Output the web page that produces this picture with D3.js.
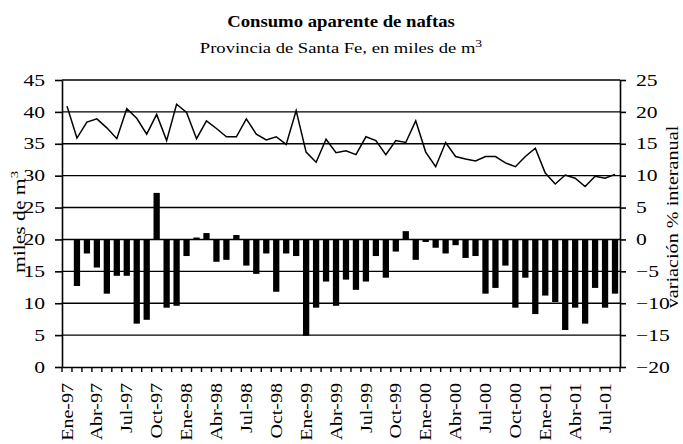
<!DOCTYPE html>
<html>
<head>
<meta charset="utf-8">
<script src="https://cdn.jsdelivr.net/npm/d3@7"></script>
<style>
  body { margin: 0; background: #fff; }
  #chart { width: 683px; height: 444px; }
  text { font-family: "Liberation Serif", "Times New Roman", serif; fill: #000; }
</style>
</head>
<body>
<div id="chart"></div>
<script>
//Datos
const meses = ['Ene-97','Feb-97','Mar-97','Abr-97','May-97','Jun-97','Jul-97','Ago-97','Sep-97','Oct-97','Nov-97','Dic-97',
  'Ene-98','Feb-98','Mar-98','Abr-98','May-98','Jun-98','Jul-98','Ago-98','Sep-98','Oct-98','Nov-98','Dic-98',
  'Ene-99','Feb-99','Mar-99','Abr-99','May-99','Jun-99','Jul-99','Ago-99','Sep-99','Oct-99','Nov-99','Dic-99',
  'Ene-00','Feb-00','Mar-00','Abr-00','May-00','Jun-00','Jul-00','Ago-00','Sep-00','Oct-00','Nov-00','Dic-00',
  'Ene-01','Feb-01','Mar-01','Abr-01','May-01','Jun-01','Jul-01','Ago-01'];

//Consumo en miles de m3 (eje izquierdo)
const consumo = [40.9, 35.9, 38.4, 38.9, 37.5, 35.8, 40.5, 39.0, 36.5, 39.6, 35.5, 41.2,
  39.9, 35.8, 38.6, 37.4, 36.1, 36.1, 38.9, 36.5, 35.6, 36.1, 34.9, 40.2,
  33.7, 32.1, 35.7, 33.6, 33.9, 33.3, 36.1, 35.5, 33.3, 35.5, 35.2, 38.6,
  33.7, 31.4, 35.2, 33.0, 32.6, 32.3, 33.0, 33.0, 32.0, 31.4, 33.0, 34.3,
  30.4, 28.7, 30.1, 29.6, 28.3, 29.9, 29.6, 30.2];

//Variación % interanual (eje derecho)
const variacion = [null, -7.3, -2.2, -4.4, -8.5, -5.7, -5.7, -13.2, -12.6, 7.3, -10.7, -10.4,
  -2.6, 0.3, 1.0, -3.5, -3.2, 0.7, -4.1, -5.4, -2.2, -8.2, -2.2, -2.6,
  -15.1, -10.7, -6.6, -10.4, -6.3, -7.9, -6.6, -2.6, -6.0, -1.9, 1.3, -3.2,
  -0.4, -1.3, -2.2, -0.9, -2.9, -2.6, -8.5, -7.6, -4.1, -10.7, -6.0, -11.7,
  -8.8, -9.8, -14.2, -10.7, -13.2, -7.6, -10.7, -8.5];

const ticksIzq = [0, 5, 10, 15, 20, 25, 30, 35, 40, 45];
const ticksDer = [-20, -15, -10, -5, 0, 5, 10, 15, 20, 25];

//Texto algo más ancho, como en el original
function ensanchar(sel, k) {
  sel.each(function() {
    let w = this.getComputedTextLength();
    this.setAttribute('textLength', w * k);
    this.setAttribute('lengthAdjust', 'spacingAndGlyphs');
  });
}

let margin = {top: 80, right: 63, bottom: 77, left: 62},
  width = 683 - margin.left - margin.right,
  height = 444 - margin.top - margin.bottom;

let root = d3.select('#chart').append('svg')
  .attr('width', 683)
  .attr('height', 444);

let svg = root.append('g')
  .attr('transform', 'translate(' + margin.left + ',' + margin.top + ')');

let x = d3.scaleBand().domain(meses).range([0, width]).padding(0);
let xBar = d3.scaleBand().domain(meses).range([0, width]).paddingInner(0.37).paddingOuter(0.185);
let yIzq = d3.scaleLinear().domain([0, 45]).range([height, 0]);
let yDer = d3.scaleLinear().domain([-20, 25]).range([height, 0]);

//Líneas de división
svg.append('g')
  .selectAll('line')
  .data(ticksIzq.slice(1))
  .enter()
  .append('line')
  .attr('x1', 0)
  .attr('x2', width)
  .attr('y1', function(d) { return yIzq(d); })
  .attr('y2', function(d) { return yIzq(d); })
  .attr('stroke', '#000')
  .attr('stroke-width', 1.4);

//Barras
svg.append('g')
  .selectAll('rect')
  .data(meses.map(function(m, i) { return {mes: m, valor: variacion[i]}; }).filter(function(d) { return d.valor !== null; }))
  .enter()
  .append('rect')
  .attr('x', function(d) { return xBar(d.mes); })
  .attr('width', xBar.bandwidth())
  .attr('y', function(d) { return yDer(Math.max(0, d.valor)); })
  .attr('height', function(d) { return Math.abs(yDer(d.valor) - yDer(0)); })
  .attr('fill', '#000');

//Línea de consumo
let linea = d3.line()
  .x(function(d, i) { return x(meses[i]) + x.bandwidth() / 2; })
  .y(function(d) { return yIzq(d); });

svg.append('path')
  .datum(consumo)
  .attr('d', linea)
  .attr('fill', 'none')
  .attr('stroke', '#000')
  .attr('stroke-width', 1.5)
  .attr('stroke-linejoin', 'miter');

//Eje izquierdo
let ejeIzq = svg.append('g')
  .call(d3.axisLeft(yIzq).tickValues(ticksIzq).tickSize(7).tickPadding(10).tickSizeOuter(0));
ejeIzq.selectAll('path, line').attr('stroke', '#000').attr('stroke-width', 1.6);
ejeIzq.selectAll('text').attr('font-size', 16).attr('font-family', null).call(ensanchar, 1.35);

//Eje derecho
let ejeDer = svg.append('g')
  .attr('transform', 'translate(' + width + ',0)')
  .call(d3.axisRight(yDer).tickValues(ticksDer).tickSize(6).tickPadding(10).tickSizeOuter(0));
ejeDer.selectAll('path, line').attr('stroke', '#000').attr('stroke-width', 1.6);
ejeDer.selectAll('text').attr('font-size', 16).attr('font-family', null).call(ensanchar, 1.35);

//Eje inferior: marcas entre categorías
svg.append('g')
  .selectAll('line')
  .data(meses.concat(['fin']))
  .enter()
  .append('line')
  .attr('x1', function(d) { return d === 'fin' ? width : x(d); })
  .attr('x2', function(d) { return d === 'fin' ? width : x(d); })
  .attr('y1', height)
  .attr('y2', height + 5)
  .attr('stroke', '#000')
  .attr('stroke-width', 1.4);

let ejeX = svg.append('g')
  .attr('transform', 'translate(0,' + height + ')')
  .call(d3.axisBottom(x).tickSize(0).tickFormat(function(d, i) { return i % 3 === 0 ? d : ''; }));
ejeX.select('.domain').attr('stroke', '#000').attr('stroke-width', 1.6);
ejeX.selectAll('text')
  .attr('font-size', 16)
  .attr('font-family', null)
  .attr('transform', 'rotate(-90)')
  .attr('text-anchor', 'end')
  .attr('x', -16)
  .attr('y', 0)
  .attr('dy', '0.35em')
  .call(ensanchar, 1.25);

//Títulos de ejes
root.append('text')
  .attr('transform', 'translate(25,222) rotate(-90) scale(1.35,1)')
  .attr('text-anchor', 'middle')
  .attr('font-size', 16)
  .html('miles de m<tspan dy="-7" font-size="11">3</tspan>');

root.append('text')
  .attr('transform', 'translate(678,217) rotate(-90)')
  .attr('text-anchor', 'middle')
  .attr('font-size', 16)
  .text('variación % interanual')
  .call(ensanchar, 1.26);

//Título y subtítulo
root.append('text')
  .attr('x', 341)
  .attr('y', 27)
  .attr('text-anchor', 'middle')
  .attr('font-size', 17)
  .attr('font-weight', 'bold')
  .text('Consumo aparente de naftas')
  .call(ensanchar, 1.1);

root.append('text')
  .attr('transform', 'translate(341,53) scale(1.24,1)')
  .attr('text-anchor', 'middle')
  .attr('font-size', 15)
  .html('Provincia de Santa Fe, en miles de m<tspan dy="-6" font-size="11">3</tspan>');
</script>
</body>
</html>
